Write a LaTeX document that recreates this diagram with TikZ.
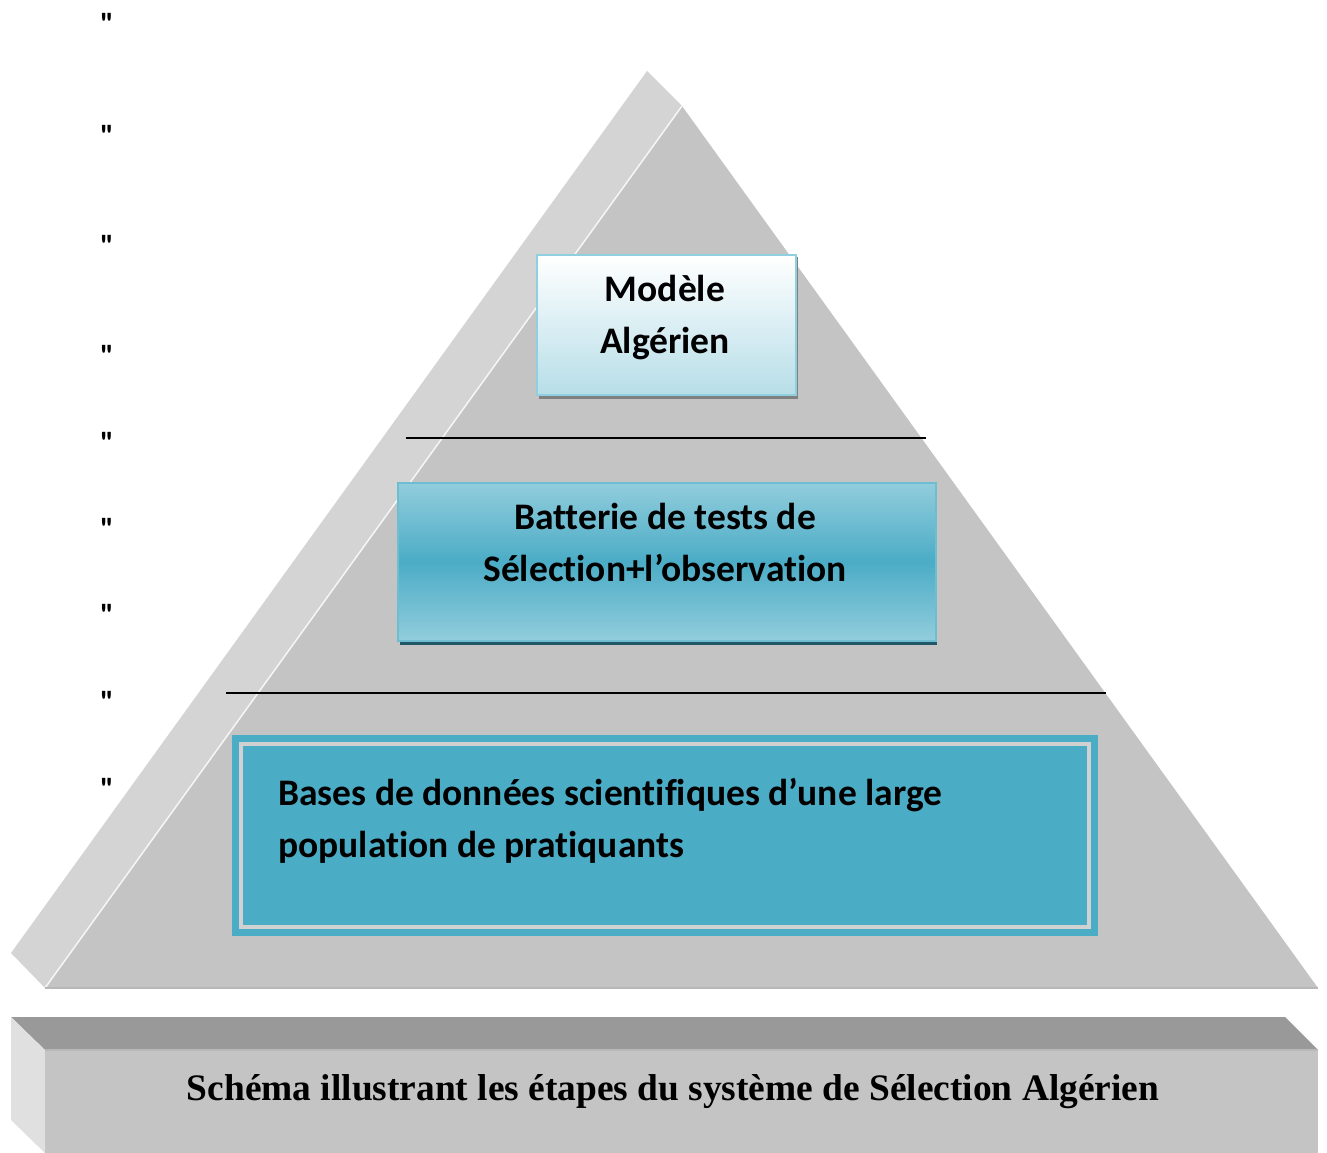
\documentclass[tikz,border=0pt]{standalone}
\usepackage{fontspec}
\setmainfont[Ligatures={NoCommon}]{Carlito}
\newfontfamily\serifbold{Liberation Serif}
\newfontfamily\qfont[Ligatures=TeXOff]{Carlito}
\definecolor{bevel}{HTML}{D4D4D4}
\definecolor{face}{HTML}{C4C4C4}
\definecolor{topface}{HTML}{999999}
\definecolor{sideface}{HTML}{E0E0E0}
\definecolor{teal}{HTML}{4BACC6}
\definecolor{lteal}{HTML}{92CDDC}
\definecolor{pale}{HTML}{B7DEE8}
\definecolor{dteal}{HTML}{215968}
\definecolor{tborder}{HTML}{8FCFE0}
\tikzset{
  lbl/.style={font=\fontsize{37.5}{52}\selectfont\bfseries, align=center, inner sep=0pt},
  quote/.style={font=\qfont\fontsize{31}{31}\selectfont\bfseries, inner sep=0pt},
  sepline/.style={line width=1.6pt, black},
}
\begin{document}
\begin{tikzpicture}[x=1pt,y=-1pt]
\useasboundingbox (0,0) rectangle (1327,1153);
\fill[white] (0,0) rectangle (1327,1153);
% pyramid bevel and front face
\fill[bevel] (647,71) -- (682,106) -- (45,988) -- (11,953) -- cycle;
\fill[face] (682,106) -- (1318,988) -- (45,988) -- cycle;
\draw[line width=1.5pt, color=white!85!face] (682,106) -- (45,988);
\draw[line width=1.5pt, color=black!28] (45,988) -- (1318,988);
% separator lines
\coordinate (l1a) at (406,438); \coordinate (l1b) at (926,438);
\coordinate (l2a) at (226,693); \coordinate (l2b) at (1106,693);
\draw[sepline] (l1a) -- (l1b);
\draw[sepline] (l2a) -- (l2b);
% Modele box
\fill[black!50] (539,257) rectangle (798,399);
\node[draw=tborder, line width=1.5pt, top color=white, bottom color=pale, minimum width=259pt, minimum height=140pt, anchor=north west, inner sep=0pt] (mod) at (536,254) {};
\node[lbl] (modt) at (665,318) {Modèle\\Algérien};
% Batterie box
\fill[dteal] (400,486) rectangle (937,645);
\node[draw=teal!80!white, line width=1.5pt, top color=lteal, bottom color=lteal, middle color=teal, minimum width=538pt, minimum height=158pt, anchor=north west, inner sep=0pt] (bat) at (397,482) {};
\node[lbl] (batt) at (665,542) {Batterie de tests de\\Sélection+l’observation};
% Bases box
\node[fill=teal, minimum width=866pt, minimum height=201pt, anchor=north west, inner sep=0pt] (bas) at (232,735) {};
\draw[line width=4pt, color=black!18] (241,744) rectangle (1089,927);
\node[lbl, align=left, anchor=west] (bast) at (278,821) {Bases de données scientifiques d’une large\\population de pratiquants};
% base slab
\fill[topface] (11,1017) -- (1285,1017) -- (1318,1050) -- (45,1050) -- cycle;
\fill[sideface] (11,1017) -- (45,1050) -- (45,1153) -- (11,1120) -- cycle;
\fill[face] (45,1050) rectangle (1318,1153);
\draw[line width=1.5pt, color=black!28] (45,1050) -- (1318,1050);
\node[font=\serifbold\fontsize{37.4}{37.4}\selectfont\bfseries, inner sep=0pt] (cap) at (673,1092) {Schéma illustrant les étapes du système de Sélection Algérien};
% quote marks
\foreach \y [count=\i] in {18,130,240,350,437,523,609,696,783} {
  \node[quote] (q\i) at (107,\y+6) {"};
}
\end{tikzpicture}
\end{document}
